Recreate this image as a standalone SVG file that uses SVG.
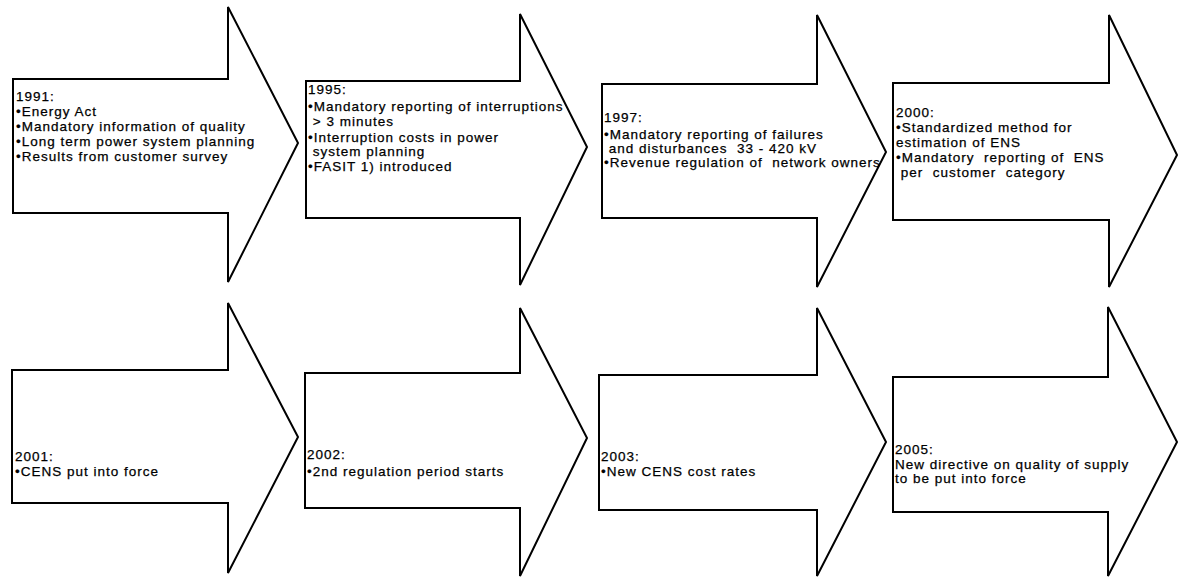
<svg xmlns="http://www.w3.org/2000/svg" width="1178" height="577" viewBox="0 0 1178 577">
<style>
.arrow{fill:#fff;stroke:#000;stroke-width:2;stroke-linejoin:miter}
.t{font-family:"Liberation Sans",Arial,sans-serif;font-size:13.5px;letter-spacing:1px;fill:#000;stroke:#000;stroke-width:0.25px;white-space:pre}
</style>
<rect width="1178" height="577" fill="#fff"/>
<g id="connectors"/>
<g id="n1991">
<polygon class="arrow" points="13,79 228,79 228,7 298,143 228,282 228,213 13,213"/>
<text class="t" x="16" y="101">1991:</text>
<text class="t" x="16" y="116">•Energy Act</text>
<text class="t" x="16" y="131">•Mandatory information of quality</text>
<text class="t" x="16" y="146">•Long term power system planning</text>
<text class="t" x="16" y="161">•Results from customer survey</text>
</g>
<g id="n1995">
<polygon class="arrow" points="306,81 520,81 520,14 587,147 520,285 520,218 306,218"/>
<text class="t" x="308" y="94">1995:</text>
<text class="t" x="308" y="111">•Mandatory reporting of interruptions</text>
<text class="t" x="308" y="126" xml:space="preserve"> &gt; 3 minutes</text>
<text class="t" x="308" y="142">•Interruption costs in power</text>
<text class="t" x="308" y="156" xml:space="preserve"> system planning</text>
<text class="t" x="308" y="171">•FASIT 1) introduced</text>
</g>
<g id="n1997">
<polygon class="arrow" points="602,84 817,84 817,15 886,152 817,287 817,218 602,218"/>
<text class="t" x="604" y="122">1997:</text>
<text class="t" x="604" y="139">•Mandatory reporting of failures</text>
<text class="t" x="604" y="153" xml:space="preserve"> and disturbances  33 - 420 kV</text>
<text class="t" x="604" y="167" xml:space="preserve">•Revenue regulation of  network owners</text>
</g>
<g id="n2000">
<polygon class="arrow" points="893,83 1109,83 1109,15 1177,155 1109,287 1109,220 893,220"/>
<text class="t" x="896" y="117">2000:</text>
<text class="t" x="896" y="132">•Standardized method for</text>
<text class="t" x="896" y="147">estimation of ENS</text>
<text class="t" x="896" y="162" xml:space="preserve">•Mandatory  reporting of  ENS</text>
<text class="t" x="896" y="177" xml:space="preserve"> per  customer  category</text>
</g>
<g id="n2001">
<polygon class="arrow" points="12,370 228,370 228,303 298,437 228,573 228,503 12,503"/>
<text class="t" x="15" y="461">2001:</text>
<text class="t" x="15" y="476">•CENS put into force</text>
</g>
<g id="n2002">
<polygon class="arrow" points="305,373 520,373 520,308 587,438 520,576 520,508 305,508"/>
<text class="t" x="307" y="459">2002:</text>
<text class="t" x="307" y="476">•2nd regulation period starts</text>
</g>
<g id="n2003">
<polygon class="arrow" points="599,375 817,375 817,308 886,442 817,576 817,510 599,510"/>
<text class="t" x="601" y="461">2003:</text>
<text class="t" x="601" y="476">•New CENS cost rates</text>
</g>
<g id="n2005">
<polygon class="arrow" points="893,377 1108,377 1108,307 1177,442 1108,576 1108,512 893,512"/>
<text class="t" x="895" y="454">2005:</text>
<text class="t" x="895" y="469">New directive on quality of supply</text>
<text class="t" x="895" y="483">to be put into force</text>
</g>
</svg>
